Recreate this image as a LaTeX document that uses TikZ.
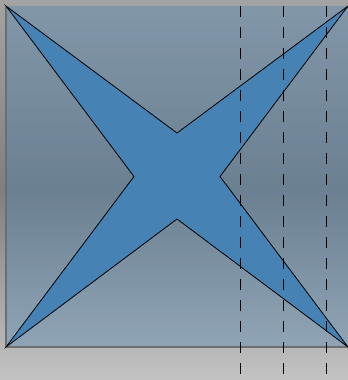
\documentclass[tikz,border=0pt]{standalone}
\usepackage{xcolor}
\usepackage{tikz}
\usetikzlibrary{calc}
\definecolor{bgtop}{HTML}{A3A3A3}
\definecolor{bgmid}{HTML}{7F7F7F}
\definecolor{bgbot}{HTML}{C3C3C3}
\definecolor{steel}{HTML}{4682B4}
\definecolor{edgegray}{HTML}{6E6E6E}
\begin{document}
\begin{tikzpicture}[
      x=0.75pt, y=-0.75pt,
      panel/.style={fill=steel, fill opacity=0.35, draw=none},
      paneledge/.style={draw=edgegray, line width=1pt},
      star/.style={fill=steel, draw=black, line width=0.6pt, line join=miter},
      guide/.style={draw=black, line width=0.7pt, dash pattern=on 8.25pt off 7.5pt},
    ]
    % background
    \shade[top color=bgtop, bottom color=bgbot, middle color=bgmid] (0,0) rectangle (348,380);
    \useasboundingbox (0,0) rectangle (348,380);

    % square panel
    \coordinate (tl) at (6,6);
    \coordinate (tr) at (348,6);
    \coordinate (br) at (348,347);
    \coordinate (bl) at (6,347);
    \fill[panel] (tl) rectangle (br);
    \draw[paneledge] (tl) -- (bl) -- (br);

    % four-pointed star
    \coordinate (c) at (177,176.5);
    \draw[star] (tl) -- ($(c)+(0,-43.5)$) -- (tr) -- ($(c)+(43,0)$) -- (br)
      -- ($(c)+(0,42.5)$) -- (bl) -- ($(c)+(-43,0)$) -- cycle;

    % dashed guides
    \foreach \gx in {240,283,326}
      \draw[guide] (\gx,6) -- (\gx,380);
\end{tikzpicture}
\end{document}
